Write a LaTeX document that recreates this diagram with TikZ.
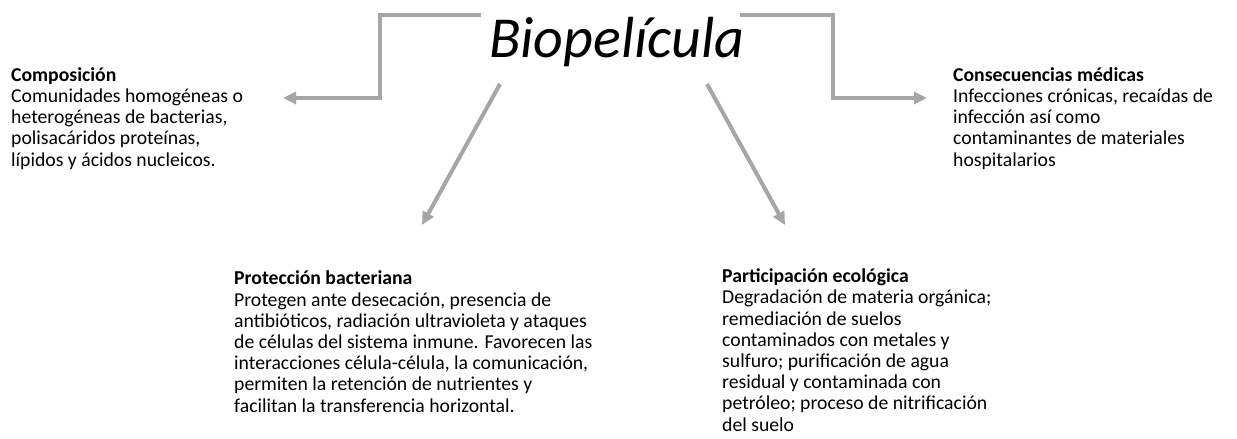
\documentclass[tikz,border=0pt]{standalone}
\usepackage{fontspec}
\setmainfont{Carlito}
\usepackage{tikz}
\usetikzlibrary{arrows.meta}
\definecolor{linkgray}{HTML}{A6A6A6}

\begin{document}
\begin{tikzpicture}[x=1pt,y=-1pt]
\tikzstyle{link}=[draw=linkgray, line width=4pt, -{Triangle[length=13pt,width=12pt]}]
\tikzstyle{block}=[anchor=base west, align=left, inner sep=0pt, font=\fontsize{19.7}{21.2}\selectfont]

\useasboundingbox (0,0) rectangle (1237,439);

\node[anchor=base, inner sep=0pt, font=\fontsize{58}{64}\selectfont\itshape] (bio) at (617,57) {Biopelícula};

% blocks are placed by the baseline of their last line
\node[block] (comp) at (11,166) {\textbf{Composición}\\Comunidades homogéneas o\\heterogéneas de bacterias,\\polisacáridos proteínas,\\lípidos y ácidos nucleicos.};
\node[block] (cons) at (953,166) {\textbf{Consecuencias médicas}\\Infecciones crónicas, recaídas de\\infección así como\\contaminantes de materiales\\hospitalarios};
\node[block] (prot) at (234,412) {\textbf{Protección bacteriana}\\Protegen ante desecación, presencia de\\antibióticos, radiación ultravioleta y ataques\\de células del sistema inmune. Favorecen las\\interacciones célula-célula, la comunicación,\\permiten la retención de nutrientes y\\facilitan la transferencia horizontal.};
\node[block] (part) at (722,431) {\textbf{Participación ecológica}\\Degradación de materia orgánica;\\remediación de suelos\\contaminados con metales y\\sulfuro; purificación de agua\\residual y contaminada con\\petróleo; proceso de nitrificación\\del suelo};

% connector ends
\coordinate (bioL) at (481,15);
\coordinate (bioR) at (740,15);
\coordinate (bioSW) at (500,84);
\coordinate (bioSE) at (707,84);
\coordinate (compIn) at (283,98);
\coordinate (consIn) at (927,98);
\coordinate (protIn) at (422,225);
\coordinate (partIn) at (785,225);

\draw[link] (bioL) -- (380,15) |- (compIn);
\draw[link] (bioR) -| (833,98) -- (consIn);
\draw[link] (bioSW) -- (protIn);
\draw[link] (bioSE) -- (partIn);

\end{tikzpicture}
\end{document}
